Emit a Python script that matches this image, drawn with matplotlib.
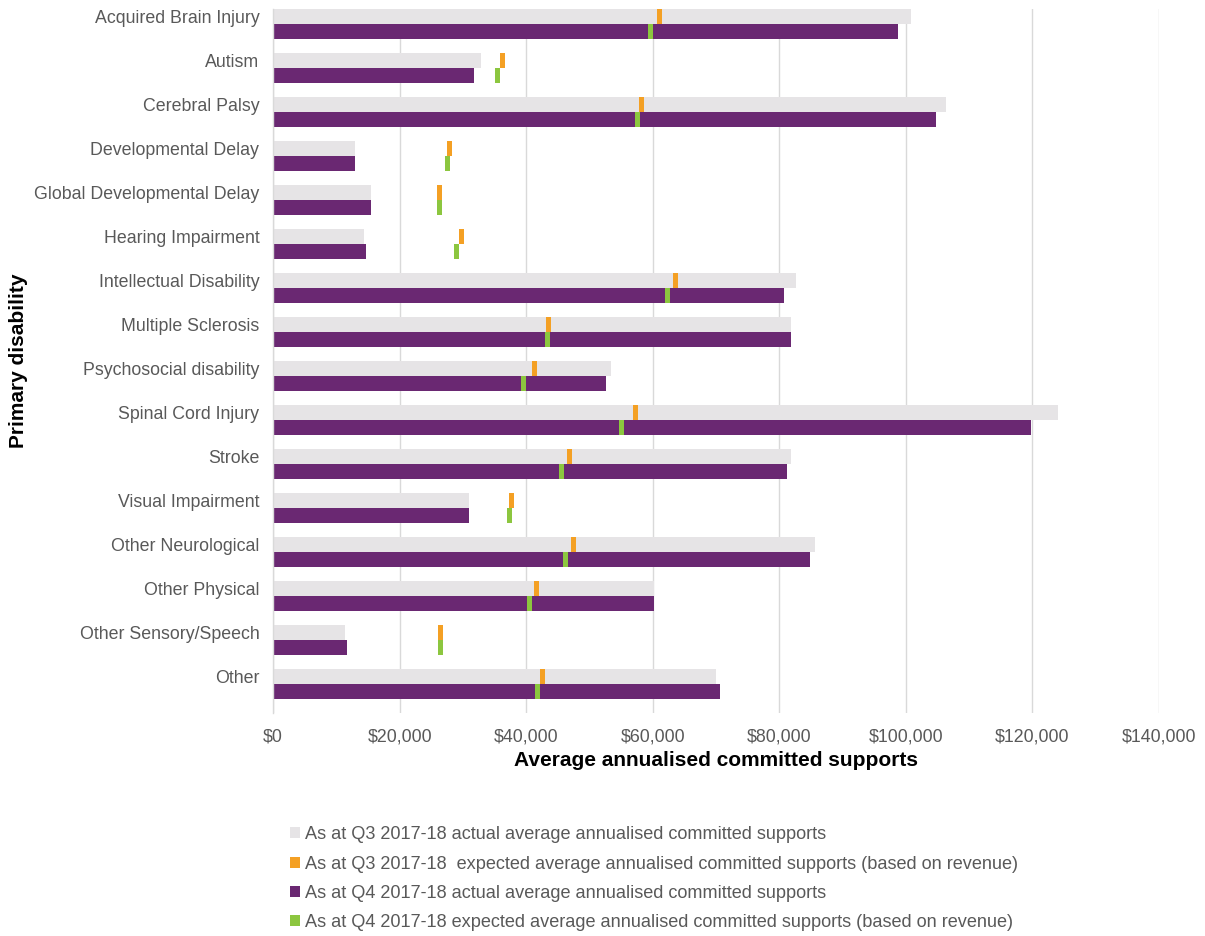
import matplotlib
matplotlib.use("Agg")
import matplotlib.pyplot as plt
from matplotlib.patches import Patch
from matplotlib.ticker import FuncFormatter, MultipleLocator
import numpy as np

plt.rcParams['font.family'] = ['Liberation Sans', 'DejaVu Sans']

categories = [
    "Acquired Brain Injury", "Autism", "Cerebral Palsy", "Developmental Delay",
    "Global Developmental Delay", "Hearing Impairment", "Intellectual Disability",
    "Multiple Sclerosis", "Psychosocial disability", "Spinal Cord Injury", "Stroke",
    "Visual Impairment", "Other Neurological", "Other Physical",
    "Other Sensory/Speech", "Other",
]
q3_actual = [100800, 32900, 106300, 12900, 15500, 14400, 82600, 81900,
             53400, 124000, 81900, 30900, 85600, 60200, 11400, 70000]
q3_expected = [61100, 36200, 58200, 27800, 26300, 29700, 63600, 43500,
               41300, 57200, 46900, 37700, 47400, 41600, 26500, 42600]
q4_actual = [98700, 31800, 104800, 12900, 15500, 14600, 80800, 81900,
             52600, 119700, 81200, 30900, 84800, 60200, 11600, 70600]
q4_expected = [59600, 35400, 57600, 27500, 26300, 29000, 62300, 43400,
               39600, 55100, 45600, 37300, 46200, 40500, 26500, 41800]

legend_labels = [
    "As at Q3 2017-18 actual average annualised committed supports",
    "As at Q3 2017-18  expected average annualised committed supports (based on revenue)",
    "As at Q4 2017-18 actual average annualised committed supports",
    "As at Q4 2017-18 expected average annualised committed supports (based on revenue)",
]

GRAY = "#E6E4E6"
ORANGE = "#F4A024"
PURPLE = "#6A2872"
GREEN = "#8CC63F"
TXT = "#595959"

W, H = 1205, 936
fig = plt.figure(figsize=(W / 100, H / 100), dpi=100)
ax = fig.add_axes([273.2 / W, 1 - 713 / H, (1159 - 273.2) / W, (713 - 9) / H])

n = len(categories)
idx = np.arange(n)
bh = 0.34
y_gray = idx + bh / 2
y_purp = idx + bh * 1.5
mw = 800  # marker width in data units

ax.barh(y_gray, q3_actual, height=bh, color=GRAY, zorder=2)
ax.barh(y_purp, q4_actual, height=bh, color=PURPLE, zorder=2)
ax.barh(y_gray, [mw] * n, left=np.array(q3_expected) - mw / 2, height=bh,
        color=ORANGE, zorder=3)
ax.barh(y_purp, [mw] * n, left=np.array(q4_expected) - mw / 2, height=bh,
        color=GREEN, zorder=3)

ax.set_ylim(n, 0)
ax.set_xlim(0, 140000)
ax.xaxis.set_major_locator(MultipleLocator(20000))
ax.xaxis.set_major_formatter(FuncFormatter(lambda v, p: f"${v:,.0f}"))
ax.set_yticks(y_gray)
ax.set_yticklabels(categories)
ax.tick_params(axis='y', length=0, pad=10, labelsize=12.8, labelcolor=TXT)
ax.tick_params(axis='x', length=0, pad=11, labelsize=12.8, labelcolor=TXT)
ax.grid(axis='x', color="#D9D9D9", linewidth=1.0, zorder=0)
ax.set_axisbelow(True)
for s in ['top', 'right', 'bottom']:
    ax.spines[s].set_visible(False)
ax.spines['left'].set_color("#D9D9D9")
ax.spines['left'].set_linewidth(1.0)

fig.text(716 / W, 1 - 761 / H, "Average annualised committed supports",
         ha='center', va='center', fontsize=15, fontweight='bold', color='black')
fig.text(19 / W, 1 - 361 / H, "Primary disability", rotation=90,
         ha='center', va='center', fontsize=15, fontweight='bold', color='black')

handles = [Patch(facecolor=c, edgecolor='none') for c in (GRAY, ORANGE, PURPLE, GREEN)]
leg = fig.legend(handles, legend_labels, loc='upper left',
                 bbox_to_anchor=(283 / W, 1 - 819 / H), frameon=False,
                 fontsize=13.1, handlelength=0.55, handleheight=0.55,
                 handletextpad=0.25, labelspacing=0.68, borderaxespad=0)
for t in leg.get_texts():
    t.set_color(TXT)

fig.savefig("out.png", dpi=100)
